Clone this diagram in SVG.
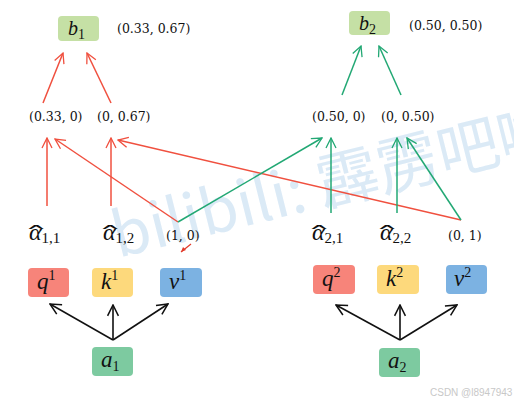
<svg xmlns="http://www.w3.org/2000/svg" width="514" height="403" viewBox="0 0 514 403">
<defs>
<marker id="arR" viewBox="0 0 12 12" refX="11" refY="6" markerWidth="12" markerHeight="12" markerUnits="userSpaceOnUse" orient="auto"><path d="M1,1 L11,6 L1,11" fill="none" stroke="#f0503f" stroke-width="1.3"/></marker>
<marker id="arG" viewBox="0 0 12 12" refX="11" refY="6" markerWidth="12" markerHeight="12" markerUnits="userSpaceOnUse" orient="auto"><path d="M1,1 L11,6 L1,11" fill="none" stroke="#22a874" stroke-width="1.3"/></marker>
<marker id="arK" viewBox="0 0 12 12" refX="11" refY="6" markerWidth="13" markerHeight="13" markerUnits="userSpaceOnUse" orient="auto"><path d="M1,1 L11,6 L1,11" fill="none" stroke="#111" stroke-width="1.4"/></marker>
</defs>
<style>
.m{font-family:"Liberation Serif","DejaVu Serif",serif;font-style:italic;fill:#111}
.n{font-family:"DejaVu Serif","Liberation Serif",serif;font-size:12.5px;fill:#111}
.h{font-family:"DejaVu Serif",serif;font-size:22px;fill:#111}
.r{stroke:#f0503f;stroke-width:1.5;fill:none;marker-end:url(#arR)}
.g{stroke:#22a874;stroke-width:1.5;fill:none;marker-end:url(#arG)}
.k{stroke:#111;stroke-width:1.6;fill:none;marker-end:url(#arK)}
.wm{font-family:"Noto Sans CJK SC","DejaVu Sans",sans-serif;font-size:62px;fill:#cfe3f4;opacity:0.75}
</style>
<rect width="514" height="403" fill="#fff"/>
<text class="wm" transform="translate(118 258) rotate(-14)">bilibili: 霹雳吧啦</text>

<g id="connectors">
<line class="r" x1="43" y1="103" x2="63" y2="53"/>
<line class="r" x1="111" y1="103" x2="87" y2="53"/>
<line class="g" x1="342" y1="95" x2="361" y2="46"/>
<line class="g" x1="401" y1="95" x2="379" y2="46"/>
<line class="r" x1="47" y1="206" x2="47" y2="138"/>
<line class="r" x1="111" y1="206" x2="111" y2="138"/>
<line class="r" x1="178" y1="222" x2="55" y2="139"/>
<line class="r" x1="461" y1="220" x2="118" y2="140"/>
<line class="g" x1="178" y1="222" x2="322" y2="138"/>
<line class="g" x1="331" y1="213" x2="331" y2="138"/>
<line class="g" x1="397" y1="213" x2="397" y2="138"/>
<line class="g" x1="461" y1="220" x2="407" y2="138"/>
<line x1="191" y1="244" x2="181" y2="252" stroke="#e23a2a" stroke-width="1.2"/>
<path d="M181,252 l2,-5 l3,3 z" fill="#e23a2a"/>
<line class="k" x1="113" y1="340" x2="50" y2="304"/>
<line class="k" x1="113" y1="340" x2="113" y2="305"/>
<line class="k" x1="113" y1="340" x2="168" y2="304"/>
<line class="k" x1="400" y1="340" x2="336" y2="305"/>
<line class="k" x1="400" y1="340" x2="400" y2="305"/>
<line class="k" x1="400" y1="340" x2="457" y2="305"/>
</g>

<g id="b1"><rect x="58" y="16" width="41" height="25" rx="4" fill="#c5e0a5"/><text class="m" x="68" y="35" font-size="20">b<tspan font-style="normal" font-size="14" dy="4">1</tspan></text></g>
<g id="b1val"><text class="n" x="117" y="33">(0.33, 0.67)</text></g>
<g id="b2"><rect x="349" y="11" width="41" height="24" rx="4" fill="#c5e0a5"/><text class="m" x="359" y="30" font-size="20">b<tspan font-style="normal" font-size="14" dy="4">2</tspan></text></g>
<g id="b2val"><text class="n" x="409" y="30">(0.50, 0.50)</text></g>

<g id="p11"><text class="n" x="29" y="121">(0.33, 0)</text></g>
<g id="p12"><text class="n" x="97" y="121">(0, 0.67)</text></g>
<g id="p21"><text class="n" x="312" y="121">(0.50, 0)</text></g>
<g id="p22"><text class="n" x="381" y="121">(0, 0.50)</text></g>

<g id="a11"><text class="h" transform="translate(36 243) scale(2.2 1)" text-anchor="middle">ˆ</text><text class="m" x="29" y="240" font-size="24">α<tspan font-style="normal" font-size="15" dy="3">1,1</tspan></text></g>
<g id="a12"><text class="h" transform="translate(110 243) scale(2.2 1)" text-anchor="middle">ˆ</text><text class="m" x="103" y="240" font-size="24">α<tspan font-style="normal" font-size="15" dy="3">1,2</tspan></text></g>
<g id="w1"><text class="n" x="166" y="240">(1, 0)</text></g>
<g id="a21"><text class="h" transform="translate(319 243) scale(2.2 1)" text-anchor="middle">ˆ</text><text class="m" x="312" y="240" font-size="24">α<tspan font-style="normal" font-size="15" dy="3">2,1</tspan></text></g>
<g id="a22"><text class="h" transform="translate(387 243) scale(2.2 1)" text-anchor="middle">ˆ</text><text class="m" x="380" y="240" font-size="24">α<tspan font-style="normal" font-size="15" dy="3">2,2</tspan></text></g>
<g id="w2"><text class="n" x="448" y="240">(0, 1)</text></g>

<g id="q1"><rect x="28" y="268" width="41" height="29" rx="4" fill="#f7847a"/><text class="m" x="37" y="289" font-size="23">q<tspan font-style="normal" font-size="14" dy="-9">1</tspan></text></g>
<g id="k1"><rect x="92" y="268" width="41" height="29" rx="4" fill="#fdd97c"/><text class="m" x="101" y="289" font-size="23">k<tspan font-style="normal" font-size="14" dy="-9">1</tspan></text></g>
<g id="v1"><rect x="160" y="268" width="42" height="29" rx="4" fill="#7cb2e2"/><text class="m" x="169" y="289" font-size="23">v<tspan font-style="normal" font-size="14" dy="-9">1</tspan></text></g>
<g id="a1"><rect x="92" y="347" width="41" height="29" rx="4" fill="#7dcaa0"/><text class="m" x="101" y="367" font-size="23">a<tspan font-style="normal" font-size="14" dy="4">1</tspan></text></g>

<g id="q2"><rect x="313" y="265" width="42" height="29" rx="4" fill="#f7847a"/><text class="m" x="322" y="286" font-size="23">q<tspan font-style="normal" font-size="14" dy="-9">2</tspan></text></g>
<g id="k2"><rect x="377" y="265" width="42" height="29" rx="4" fill="#fdd97c"/><text class="m" x="386" y="286" font-size="23">k<tspan font-style="normal" font-size="14" dy="-9">2</tspan></text></g>
<g id="v2"><rect x="446" y="265" width="41" height="29" rx="4" fill="#7cb2e2"/><text class="m" x="454" y="286" font-size="23">v<tspan font-style="normal" font-size="14" dy="-9">2</tspan></text></g>
<g id="a2"><rect x="379" y="348" width="41" height="29" rx="4" fill="#7dcaa0"/><text class="m" x="388" y="368" font-size="23">a<tspan font-style="normal" font-size="14" dy="4">2</tspan></text></g>

<text x="430" y="396" font-family="Liberation Sans, Arial, sans-serif" font-size="10" fill="#c8c8c8">CSDN @l8947943</text>
</svg>
